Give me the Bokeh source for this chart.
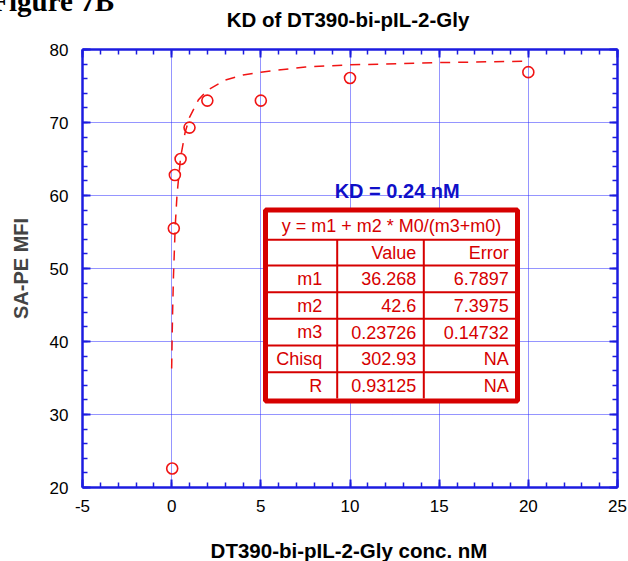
from bokeh.plotting import figure
from bokeh.layouts import column
from bokeh.models import (LinearAxis, SingleIntervalTicker, Label, ColumnDataSource,
                          Range1d, CustomJSTickFormatter, Div)
from bokeh.core.properties import value
from bokeh.embed import file_html
from bokeh.resources import INLINE

# ---------------- data ----------------
conc_nM = [0.03, 0.12, 0.18, 0.5, 1.0, 2.0, 5.0, 10.0, 20.0]
mfi = [22.6, 55.5, 62.8, 65.0, 69.3, 73.0, 73.0, 76.1, 76.9]

# fitted curve (dashed line)
fit_x = [0.0, 0.01, 0.025, 0.05, 0.1, 0.2, 0.3, 0.5, 0.75, 1.0, 1.5, 2.0, 3.0, 4.0, 5.0,
         7.5, 10.0, 15.0, 20.0]
fit_y = [36.3, 38.0, 40.3, 43.7, 48.9, 55.8, 60.1, 65.2, 68.6, 70.7, 73.1, 74.4, 75.8, 76.5,
         76.9, 77.6, 77.9, 78.2, 78.4]

formula = "y = m1 + m2 * M0/(m3+m0)"
col_heads = ["", "Value", "Error"]
param_names = ["m1", "m2", "m3", "Chisq", "R"]
param_values = ["36.268", "42.6", "0.23726", "302.93", "0.93125"]
param_errors = ["6.7897", "7.3975", "0.14732", "NA", "NA"]
kd_text = "KD = 0.24 nM"

title_text = "KD of DT390-bi-pIL-2-Gly"
x_label = "DT390-bi-pIL-2-Gly conc. nM"
y_label = "SA-PE MFI"
fig_label = "Figure 7B"

# ---------------- styles ----------------
BLUE = "#1c1ce0"
GRID = "#2a2aff"
RED = "#f01414"
TRED = "#d60000"
SANS = "Liberation Sans"
W = 628
TOP_H = 39          # strip holding the titles
BOT_H = 38          # strip holding the x-axis title

X0, X1, Y0, Y1 = -5, 25, 20, 80
FL, FR = 82, 617                 # frame, page pixels
FT, FB = 49, 487
MAIN_H = 561 - TOP_H - BOT_H
MB_TOP = FT - TOP_H
MB_BOT = MAIN_H - MB_TOP - (FB - FT)
BOT_Y0 = TOP_H + MAIN_H


def dx(px):
    return X0 + (px - FL) * (X1 - X0) / (FR - FL)


def dy(py):
    return Y0 + (FB - py) * (Y1 - Y0) / (FB - FT)


# ---------------- title strip (HTML text) ----------------
top_html = (
    f'<div style="position:relative;width:{W}px;height:{TOP_H}px;overflow:hidden;'
    f'background:white;margin:0;padding:0;">'
    f'<div style="position:absolute;left:48px;top:9.8px;width:600px;text-align:center;'
    f'font-family:\'{SANS}\';font-weight:bold;font-size:20.5px;line-height:20.5px;'
    f'white-space:nowrap;color:black;">{title_text}</div>'
    f'<div style="position:absolute;right:{W - 114}px;top:-13.5px;text-align:right;'
    f'font-family:\'Liberation Serif\';font-weight:bold;font-size:29px;line-height:29px;'
    f'white-space:nowrap;color:black;">{fig_label}</div>'
    f'</div>'
)
top = Div(text=top_html, width=W, height=TOP_H, margin=0)

# ---------------- main plot ----------------
p = figure(width=W, height=MAIN_H, x_range=Range1d(X0, X1), y_range=Range1d(Y0, Y1),
           output_backend="svg", toolbar_location=None,
           min_border_left=FL, min_border_right=W - FR,
           min_border_top=MB_TOP, min_border_bottom=MB_BOT)
p.outline_line_color = None
p.background_fill_color = "white"
p.border_fill_color = "white"

xt = SingleIntervalTicker(interval=5, num_minor_ticks=5)
yt = SingleIntervalTicker(interval=10, num_minor_ticks=5)


def style_axis(ax, labels=True):
    ax.axis_line_color = BLUE
    ax.axis_line_width = 2.5
    ax.major_tick_line_color = BLUE
    ax.minor_tick_line_color = BLUE
    ax.major_tick_line_width = 2
    ax.minor_tick_line_width = 1.5
    ax.major_tick_in = 8
    ax.major_tick_out = 0
    ax.minor_tick_in = 5
    ax.minor_tick_out = 0
    if labels:
        ax.formatter = CustomJSTickFormatter(code="return String(tick)")
        ax.major_label_text_font = SANS
        ax.major_label_text_font_size = "17px"
        ax.major_label_text_color = "black"
    else:
        ax.formatter = CustomJSTickFormatter(code="return ''")
        ax.major_label_text_font_size = "0px"
        ax.major_label_standoff = 0
        ax.axis_label_standoff = 0


xa = p.xaxis[0]
xa.ticker = xt
style_axis(xa)
xa.major_label_standoff = 12

ya = p.yaxis[0]
ya.ticker = yt
style_axis(ya)
ya.major_label_standoff = 14
ya.axis_label = y_label
ya.axis_label_text_font = SANS
ya.axis_label_text_font_style = "bold"
ya.axis_label_text_font_size = "20px"
ya.axis_label_standoff = 15

top_ax = LinearAxis(ticker=SingleIntervalTicker(interval=5, num_minor_ticks=5))
style_axis(top_ax, labels=False)
p.add_layout(top_ax, "above")
right_ax = LinearAxis(ticker=SingleIntervalTicker(interval=10, num_minor_ticks=5))
style_axis(right_ax, labels=False)
p.add_layout(right_ax, "right")

for g in (p.xgrid[0], p.ygrid[0]):
    g.grid_line_color = GRID
    g.grid_line_width = 1
    g.grid_line_dash = "1 1"
p.xgrid[0].ticker = xt
p.ygrid[0].ticker = yt

# fit curve & points
p.line(fit_x, fit_y, line_color=RED, line_width=1.5, line_dash="10 8")
p.scatter(conc_nM, mfi, marker="circle", size=11, fill_color=None,
          line_color=RED, line_width=1.6)

# parameter table
tl, tr, tt, tb = 265, 517, 209.5, 400.5
p.quad(left=[dx(tl)], right=[dx(tr)], top=[dy(tt)], bottom=[dy(tb)],
       fill_color="white", line_color=TRED, line_width=5)
row_lines = [239.3, 265, 291.7, 318.3, 345, 371.7]
inner_l, inner_r, inner_b = 267.5, 514.5, 398
p.segment(x0=[dx(inner_l)] * len(row_lines), x1=[dx(inner_r)] * len(row_lines),
          y0=[dy(v) for v in row_lines], y1=[dy(v) for v in row_lines],
          line_color=TRED, line_width=2)
col_lines = [336.7, 423.3]
p.segment(x0=[dx(v) for v in col_lines], x1=[dx(v) for v in col_lines],
          y0=[dy(row_lines[0])] * 2, y1=[dy(inner_b)] * 2,
          line_color=TRED, line_width=2)

p.text(x=[dx(391)], y=[dy(225.5)], text=[formula], text_align="center",
       text_baseline="middle", text_color=TRED, text_font=value(SANS),
       text_font_size="18px")

col_right = [321.7, 415.7, 508.3]
row_mid = [252.2, 278.3, 305, 331.7, 358.3, 385]
tx, ty, tt_ = [], [], []
for j, h in enumerate(col_heads):
    if h:
        tx.append(dx(col_right[j])); ty.append(dy(row_mid[0])); tt_.append(h)
for i in range(len(param_names)):
    for j, col in enumerate((param_names, param_values, param_errors)):
        tx.append(dx(col_right[j])); ty.append(dy(row_mid[i + 1])); tt_.append(col[i])
p.text(x="x", y="y", text="t", source=ColumnDataSource(dict(x=tx, y=ty, t=tt_)),
       text_align="right", text_baseline="middle", text_color=TRED,
       text_font=value(SANS), text_font_size="18px")

p.add_layout(Label(x=dx(396.7), y=dy(190), text=kd_text, text_align="center",
                   text_baseline="middle", text_color="#1010c8",
                   text_font=SANS, text_font_style="bold", text_font_size="20px"))

# ---------------- x-axis title strip (frame aligned with main frame) ----------------
bot = figure(width=W, height=BOT_H, x_range=Range1d(FL, FR), y_range=Range1d(BOT_H, 0),
             output_backend="svg", toolbar_location=None,
             x_axis_location=None, y_axis_location=None, min_border=0)
bot.grid.visible = False
bot.outline_line_color = None
bot.background_fill_color = "white"
bot.border_fill_color = "white"
bot.add_layout(Label(x=348.5, y=550 - BOT_Y0, text=x_label, text_align="center",
                     text_baseline="middle", text_color="black",
                     text_font=SANS, text_font_style="bold", text_font_size="20.5px"))

layout = column(top, p, bot, spacing=0)
open("out.html", "w").write(file_html(layout, INLINE))
